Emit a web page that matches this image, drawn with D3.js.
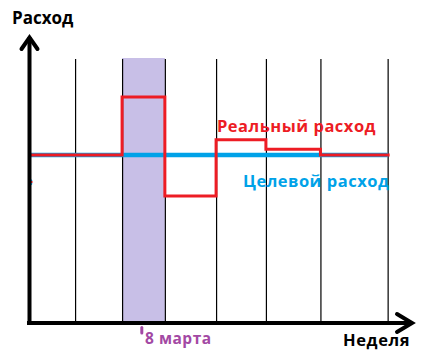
<!DOCTYPE html>
<html>
<head>
<meta charset="utf-8">
<script src="https://cdn.jsdelivr.net/npm/d3@7"></script>
<style>
  html, body { margin: 0; padding: 0; background: #fff; }
  svg text { font-family: "Open Sans", "Noto Sans", sans-serif; font-weight: bold; }
</style>
</head>
<body>
<svg id="chart"></svg>
<script>
// week boundaries (grid lines), in week units from the origin
const weekBounds = [0.97, 1.97, 2.88, 3.97, 5.03, 6.19, 7.62];
// the highlighted week (8 March)
const holidayWeek = [1.97, 2.88];
// real spending: step starts and levels
const realStarts = [0.02, 1.97, 2.88, 3.97, 5.03, 6.19];
const realValues = [63.6, 85.6, 48.1, 69.4, 65.8, 63.6];
const realEnd = 7.63;
// target spending level
const targetValue = 63.6;
const targetSpan = [0.03, 7.63];

const labels = { yAxis: "Расход", xAxis: "Неделя", real: "Реальный расход", target: "Целевой расход", holiday: "8 марта" };
const RED = "#ed1c24", BLUE = "#00a2e8", LAVENDER = "#c8bfe7", PURPLE = "#a349a4";

const outerW = 428, outerH = 352;
const svg = d3.select("#chart").attr("width", outerW).attr("height", outerH);

const x = d3.scaleLinear().domain([0, 8]).range([29.5, 405.5]);
const y = d3.scaleLinear().domain([0, 100]).range([323, 59]);

// highlighted week
svg.append("rect")
  .attr("x", x(holidayWeek[0])).attr("y", y(100) - 1)
  .attr("width", x(holidayWeek[1]) - x(holidayWeek[0])).attr("height", y(0) - y(100) + 1)
  .attr("fill", LAVENDER);

// vertical week grid via an axis with long ticks
svg.append("g").attr("class", "grid")
  .attr("transform", `translate(0,${y(0)})`)
  .call(d3.axisBottom(x).tickValues(weekBounds).tickSize(-(y(0) - y(100))).tickFormat(""))
  .call(g => g.select(".domain").remove())
  .call(g => g.selectAll("line").attr("stroke", "#000").attr("stroke-width", 1.2));

// target line
svg.append("line")
  .attr("x1", x(targetSpan[0])).attr("x2", x(targetSpan[1]))
  .attr("y1", y(targetValue)).attr("y2", y(targetValue))
  .attr("stroke", BLUE).attr("stroke-width", 4.5);

// real spending step line
const realPts = realStarts.map((s, i) => ({ w: s, v: realValues[i] }));
realPts.push({ w: realEnd, v: realValues[realValues.length - 1] });
svg.append("path")
  .datum(realPts)
  .attr("fill", "none").attr("stroke", RED).attr("stroke-width", 3)
  .attr("stroke-linejoin", "miter").attr("stroke-linecap", "square")
  .attr("d", d3.line().x(d => x(d.w)).y(d => y(d.v)).curve(d3.curveStepAfter));

// small stray mark near the y axis
svg.append("path").attr("d", "M32,180 Q28.5,182 32,184.5").attr("fill", "none").attr("stroke", BLUE).attr("stroke-width", 2);
svg.append("rect").attr("x", 31).attr("y", 181).attr("width", 1.5).attr("height", 2).attr("fill", RED);

// axes with arrows
const axisG = svg.append("g").attr("stroke", "#000").attr("stroke-width", 4).attr("fill", "none");
axisG.append("line").attr("x1", x(0)).attr("x2", x(0)).attr("y1", 37).attr("y2", y(0) + 2).attr("stroke-linecap", "butt");
axisG.append("line").attr("x1", x(0) - 2.5).attr("x2", 412).attr("y1", y(0)).attr("y2", y(0));
axisG.append("path").attr("d", `M${x(0) - 8},49 L${x(0)},37.5 L${x(0) + 8},49`).attr("stroke-linecap", "round").attr("stroke-linejoin", "miter");
axisG.append("path").attr("d", `M397,${y(0) - 9} L412,${y(0)} L397,${y(0) + 9}`).attr("stroke-linecap", "round").attr("stroke-linejoin", "miter");

// holiday tick
svg.append("line").attr("x1", 141.8).attr("x2", 141.8).attr("y1", 327.5).attr("y2", 333)
  .attr("stroke", PURPLE).attr("stroke-width", 3).attr("stroke-linecap", "round");

// labels
svg.append("text").attr("x", 12).attr("y", 24).attr("font-size", 17).attr("fill", "#000").text(labels.yAxis);
svg.append("text").attr("x", 343).attr("y", 346).attr("font-size", 16.5).attr("letter-spacing", 0.6).attr("fill", "#000").text(labels.xAxis);
svg.append("text").attr("x", 217).attr("y", 131.5).attr("font-size", 16.5).attr("letter-spacing", 0.5).attr("fill", RED).text(labels.real);
svg.append("text").attr("x", 243).attr("y", 187).attr("font-size", 16.5).attr("letter-spacing", 0.5).attr("fill", BLUE).text(labels.target);
svg.append("text").attr("x", 145).attr("y", 343.5).attr("font-size", 15.5).attr("letter-spacing", 0.5).attr("fill", PURPLE).text(labels.holiday);
</script>
</body>
</html>
